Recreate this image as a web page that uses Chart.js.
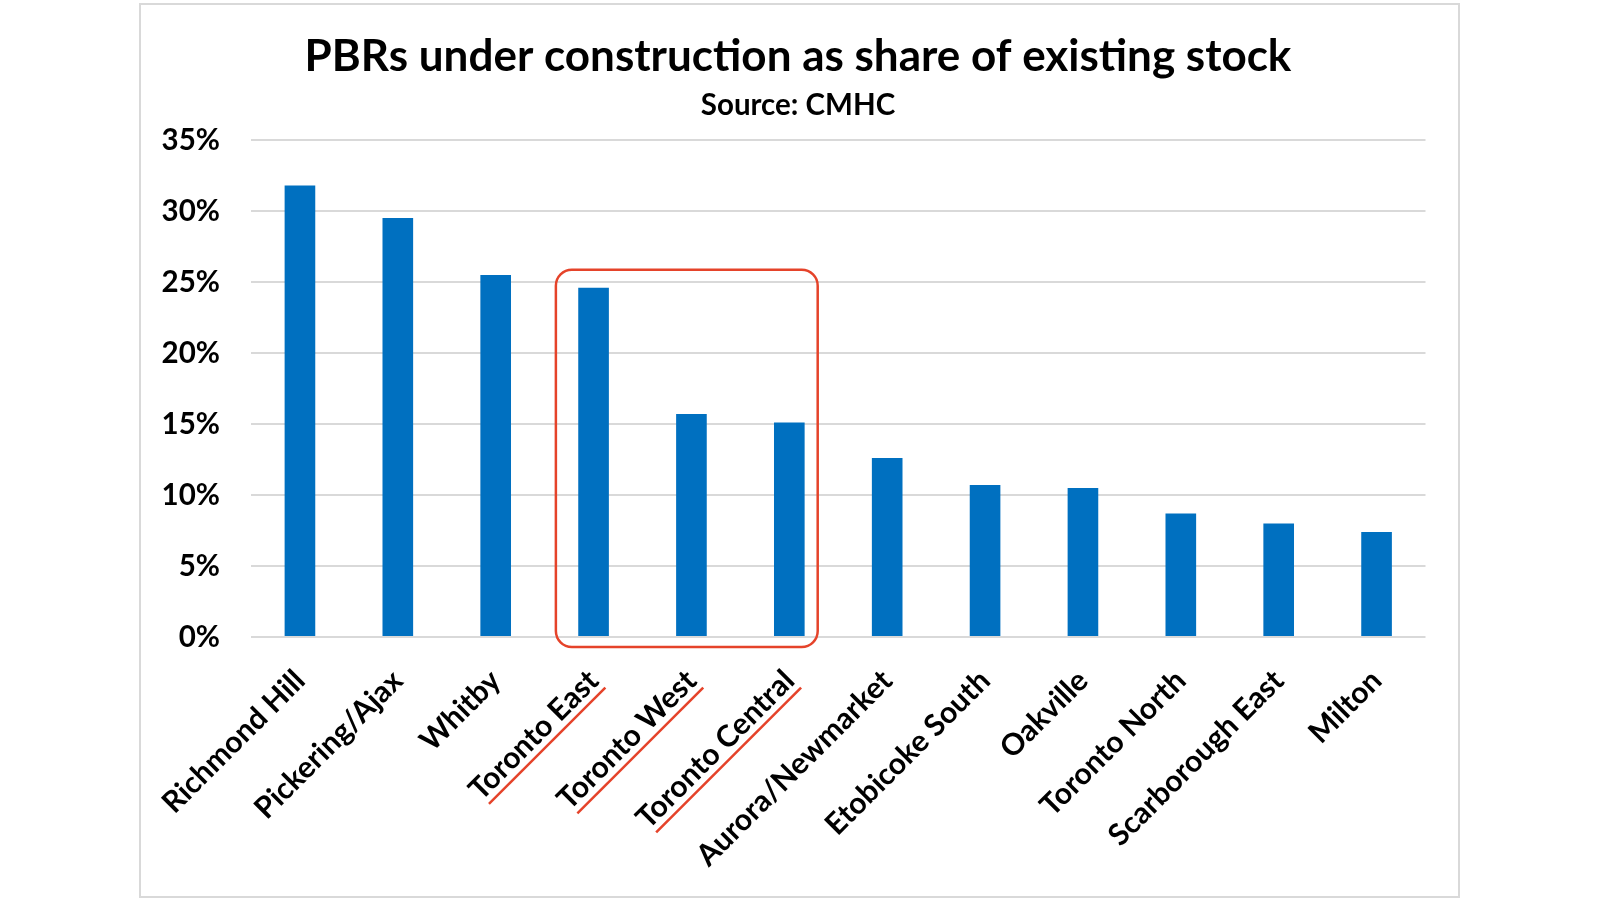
<!DOCTYPE html>
<html>
<head>
<meta charset="utf-8">
<title>PBRs under construction as share of existing stock</title>
<script src="https://cdn.jsdelivr.net/npm/chart.js@4.4.1/dist/chart.umd.min.js"></script>
<style>
  html, body { margin: 0; padding: 0; background: #fff; }
  #wrap { position: relative; width: 1600px; height: 900px; }
  #frame {
    position: absolute; left: 139px; top: 3px; width: 1317px; height: 891px;
    border: 2px solid #d9d9d9; pointer-events: none;
  }
</style>
</head>
<body>
<div id="wrap">
  <canvas id="chart" width="1600" height="900"></canvas>
  <div id="frame"></div>
</div>
<script>
// --- datos ---
const regions = [
  "Richmond Hill", "Pickering/Ajax", "Whitby", "Toronto East", "Toronto West",
  "Toronto Central", "Aurora/Newmarket", "Etobicoke South", "Oakville",
  "Toronto North", "Scarborough East", "Milton"
];
const shares = [31.8, 29.5, 25.5, 24.6, 15.7, 15.1, 12.6, 10.7, 10.5, 8.7, 8.0, 7.4];
const yTicks = [0, 5, 10, 15, 20, 25, 30, 35];
const highlighted = ["Toronto East", "Toronto West", "Toronto Central"];

const FONT = "Lato, 'Open Sans', sans-serif";
const RED = "#e5432a";

// --- caja roja + subrayados ---
const highlightPlugin = {
  id: "highlight",
  afterDraw(chart) {
    const { ctx } = chart;
    const x = chart.scales.x;
    const y = chart.scales.y;
    const idx = highlighted.map((l) => regions.indexOf(l));
    const first = Math.min(...idx);
    const last = Math.max(...idx);
    const step = x.getPixelForValue(1) - x.getPixelForValue(0);

    const left = x.getPixelForValue(first) - step * 0.385;
    const right = x.getPixelForValue(last) + step * 0.29;
    const top = y.getPixelForValue(Math.max(...idx.map((i) => shares[i]))) - 18;
    const bottom = y.getPixelForValue(0) + 10;

    ctx.save();
    ctx.strokeStyle = RED;
    ctx.lineWidth = 2.5;
    ctx.beginPath();
    ctx.roundRect(left, top, right - left, bottom - top, 16);
    ctx.stroke();

    // subrayar las etiquetas
    const items = x.getLabelItems();
    idx.forEach((i) => {
      const it = items[i];
      if (!it) return;
      const [tx, ty] = it.options.translation;
      ctx.save();
      ctx.translate(tx, ty);
      ctx.rotate(it.options.rotation);
      ctx.font = it.font.string;
      ctx.textBaseline = it.options.textBaseline;
      const w = ctx.measureText(it.label).width;
      const base = it.textOffset + ctx.measureText("H").actualBoundingBoxDescent;
      ctx.beginPath();
      ctx.moveTo(-w + 4, base + 7);
      ctx.lineTo(0, base + 7);
      ctx.stroke();
      ctx.restore();
    });
    ctx.restore();
  },
};

new Chart(document.getElementById("chart"), {
  type: "bar",
  data: {
    labels: regions,
    datasets: [
      {
        data: shares,
        backgroundColor: "#0070c0",
        barPercentage: 1,
        categoryPercentage: 0.313,
      },
    ],
  },
  options: {
    responsive: false,
    animation: false,
    layout: { padding: { left: 141, right: 145, top: 10, bottom: 0 } },
    plugins: {
      legend: { display: false },
      tooltip: { enabled: false },
      title: {
        display: true,
        text: "PBRs under construction as share of existing stock",
        color: "#000",
        font: { family: FONT, size: 44, weight: "bold" },
        padding: { top: 20.6, bottom: 0 },
      },
      subtitle: {
        display: true,
        text: "Source: CMHC",
        color: "#000",
        font: { family: FONT, size: 29.5, weight: "bold" },
        padding: { top: 3.9, bottom: 17.3 },
      },
    },
    scales: {
      x: {
        grid: { display: false },
        border: { display: false },
        ticks: {
          autoSkip: false,
          maxRotation: 45,
          minRotation: 45,
          padding: 18,
          color: "#000",
          font: { family: FONT, size: 30, weight: "bold" },
        },
        afterFit(scale) {
          scale.height = 263;
          scale.paddingLeft = 0;
          scale.paddingRight = 0;
        },
      },
      y: {
        min: 0,
        max: 35,
        afterBuildTicks(scale) { scale.ticks = yTicks.map((v) => ({ value: v })); },
        grid: { color: "#d9d9d9", lineWidth: 2, drawTicks: false },
        border: { display: false },
        ticks: {
          padding: 31,
          color: "#000",
          font: { family: FONT, size: 29.5, weight: "bold" },
          callback: (v) => v + "%",
        },
        afterFit(scale) {
          scale.width = 110;
          scale.paddingTop = 0;
          scale.paddingBottom = 0;
        },
      },
      // margen derecho vacío para que el título quede centrado como en el original
      spacer: {
        type: "linear",
        position: "right",
        display: true,
        grid: { display: false },
        border: { display: false },
        ticks: { display: false },
        afterFit(scale) { scale.width = 29.5; },
      },
    },
  },
  plugins: [highlightPlugin],
});
</script>
</body>
</html>
